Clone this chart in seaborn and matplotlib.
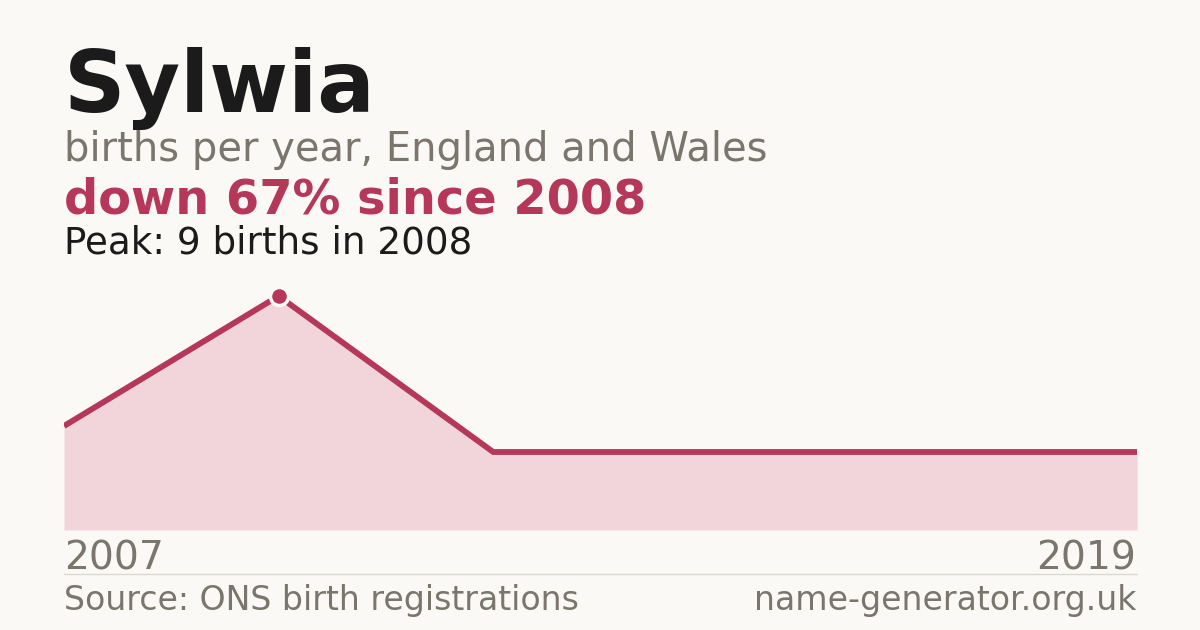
import matplotlib
matplotlib.use("Agg")
import matplotlib.pyplot as plt
import seaborn as sns
import pandas as pd

# data (only years with registered births)
years = [2007, 2008, 2011, 2013, 2016, 2019]
births = [4, 9, 3, 3, 3, 3]

name = "Sylwia"
subtitle = "births per year, England and Wales"
change_text = "down 67% since 2008"
peak_text = "Peak: 9 births in 2008"
source_text = "Source: ONS birth registrations"
site_text = "name-generator.org.uk"

BG = "#faf9f5"
RED = "#b5385a"
FILL = "#f1d5da"
GREY = "#7a756d"
DARK = "#1b1b1b"

sns.set_theme(style="white")
plt.rcParams["font.family"] = ["DejaVu Sans"]

W, H = 1200, 630
fig = plt.figure(figsize=(12, 6.3), dpi=100, facecolor=BG)

df = pd.DataFrame({"idx": range(len(years)), "year": years, "births": births})

left, right = 64, 1137
bottom, top = 530, 290
ax = fig.add_axes([left / W, 1 - bottom / H, (right - left) / W, (bottom - top) / H])
ax.set_facecolor(BG)

ax.fill_between(df["idx"], 0, df["births"], color=FILL, linewidth=0)
sns.lineplot(data=df, x="idx", y="births", ax=ax, color=RED, linewidth=4.2,
             solid_capstyle="butt", solid_joinstyle="miter")
peak_i = df["births"].idxmax()
ax.plot(df["idx"][peak_i], df["births"][peak_i], marker="o", markersize=13,
        markerfacecolor=RED, markeredgecolor=BG, markeredgewidth=2.5, clip_on=False)

ax.set_xlim(0, len(years) - 1)
ax.set_ylim(0, max(births) * 240 / 234)
ax.axis("off")


def ftext(x, y, s, **kw):
    fig.text(x / W, 1 - y / H, s, va="baseline", **kw)


ftext(64, 112, name, fontsize=61.5, fontweight="bold", color=DARK)
ftext(64, 161, subtitle, fontsize=28.8, color=GREY)
ftext(64, 214, change_text, fontsize=34.5, fontweight="bold", color=RED)
ftext(64, 253, peak_text, fontsize=26.8, color=DARK)

ftext(64, 569, str(years[0]), fontsize=28.3, color=GREY)
ftext(1136, 569, str(years[-1]), fontsize=28.3, color=GREY, ha="right")

sep = plt.Line2D([left / W, right / W], [1 - 574 / H, 1 - 574 / H],
                 transform=fig.transFigure, color="#dcd9d2", linewidth=1)
fig.add_artist(sep)

ftext(64, 610, source_text, fontsize=23.9, color=GREY)
ftext(1136, 610, site_text, fontsize=23.9, color=GREY, ha="right")

fig.savefig("out.png", dpi=100, facecolor=BG)
